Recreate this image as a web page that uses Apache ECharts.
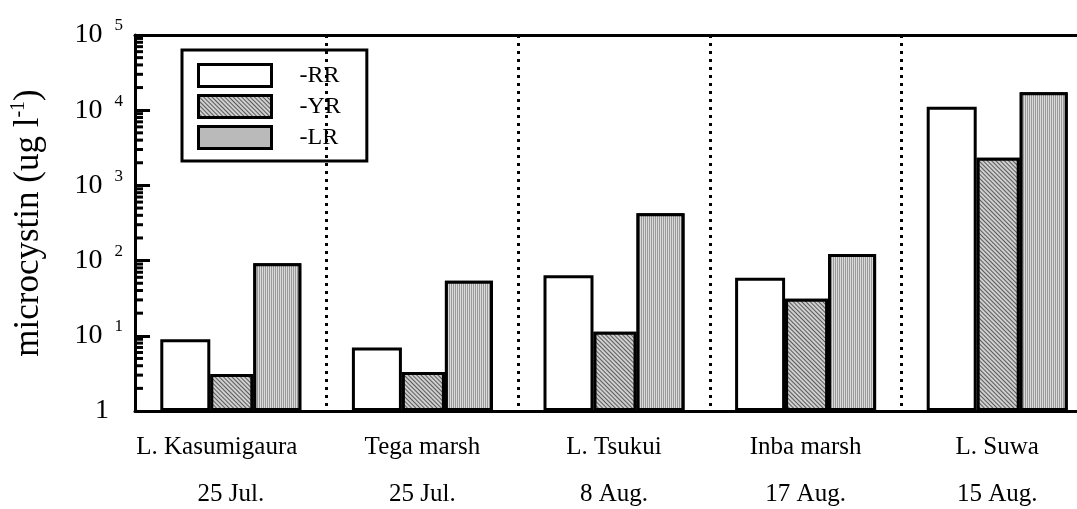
<!DOCTYPE html>
<html>
<head>
<meta charset="utf-8">
<script src="https://cdn.jsdelivr.net/npm/echarts@6/dist/echarts.min.js"></script>
<style>
    html, body { margin: 0; padding: 0; background: #fff; }
    #chart { width: 1077px; height: 509px; }
</style>
</head>
<body>
<div id="chart"></div>
<script>
// 采样点
const categories = ['L. Kasumigaura', 'Tega marsh', 'L. Tsukui', 'Inba marsh', 'L. Suwa'];
const dates = ['25 Jul.', '25 Jul.', '8 Aug.', '17 Aug.', '15 Aug.'];
// microcystin (ug/l), log scale
const rrData = [9, 7, 64, 59, 11100];
const yrData = [3.1, 3.3, 11.3, 31, 2330];
const lrData = [92, 54, 425, 122, 17300];
const yTicks = [1, 10, 100, 1000, 10000, 100000];

// minor ticks 2..9 in every decade
const minorTicks = [];
yTicks.slice(0, -1).forEach(d => {
    for (let k = 2; k <= 9; k++) minorTicks.push(d * k);
});

const font = 'Liberation Serif';
const myChart = echarts.init(document.getElementById('chart'));

const option = {
    backgroundColor: '#fff',
    animation: false,
    textStyle: { fontFamily: font, color: '#000' },
    grid: {
        left: 135,
        width: 958,
        top: 35,
        bottom: 98,
        outerBoundsMode: 'none'
    },
    legend: {
        orient: 'vertical',
        left: 182,
        top: 50,
        padding: [13, 26, 11, 15],
        itemWidth: 73,
        itemHeight: 22,
        itemGap: 6,
        icon: 'rect',
        borderColor: '#000',
        borderWidth: 3,
        data: ['RR', 'YR', 'LR'],
        formatter: '-{name}',
        itemStyle: { borderColor: '#000', borderWidth: 3 },
        textStyle: { fontFamily: font, fontSize: 24, color: '#000', padding: [0, 0, 0, 23] }
    },
    xAxis: [{
        type: 'category',
        data: categories,
        axisLine: { lineStyle: { color: '#000', width: 3 } },
        axisTick: { show: false },
        splitLine: {
            show: true,
            interval: (i) => i > 0,
            lineStyle: { color: '#000', width: 3, type: [3, 5] }
        },
        axisLabel: {
            margin: 12.5,
            interval: 0,
            formatter: (v, i) => (i === 0 ? '{n0|' : '{n|') + v + '}\n{d|' + dates[i] + '}',
            rich: {
                n: { fontFamily: font, fontSize: 25, lineHeight: 47, color: '#000' },
                n0: { fontFamily: font, fontSize: 25, lineHeight: 47, color: '#000', padding: [0, 28, 0, 0] },
                d: { fontFamily: font, fontSize: 25, lineHeight: 47, color: '#000' }
            }
        }
    }, {
        type: 'category',
        position: 'top',
        data: categories,
        axisLine: { show: true, lineStyle: { color: '#000', width: 3 } },
        axisTick: { show: false },
        axisLabel: { show: false }
    }],
    yAxis: {
        type: 'log',
        logBase: 10,
        min: 1,
        max: 100000,
        name: '{n|microcystin (ug l}{s|-1}{n|)}',
        nameLocation: 'middle',
        nameRotate: 90,
        nameGap: 87,
        nameTextStyle: {
            rich: {
                n: { fontFamily: font, fontSize: 35, color: '#000' },
                s: { fontFamily: font, fontSize: 20, color: '#000', padding: [0, 0, 19, 0] }
            }
        },
        axisLine: { show: true, lineStyle: { color: '#000', width: 3 } },
        axisTick: { show: true, inside: true, length: 15, lineStyle: { color: '#000', width: 3 } },
        splitLine: { show: false },
        axisLabel: {
            margin: 12,
            formatter: (v) => {
                const e = Math.round(Math.log10(v));
                return e === 0 ? '{b|1}{p|}' : '{b|10}{e|' + e + '}';
            },
            rich: {
                b: { fontFamily: font, fontSize: 28, color: '#000' },
                e: { fontFamily: font, fontSize: 17, color: '#000', padding: [0, 0, 18, 12] },
                p: { width: 14 }
            }
        }
    },
    series: [{
        name: 'RR',
        type: 'bar',
        barWidth: 50,
        barGap: '0%',
        itemStyle: { color: '#fff', borderColor: '#000', borderWidth: 3 },
        data: rrData
    }, {
        name: 'YR',
        type: 'bar',
        barWidth: 43,
        barGap: '0%',
        itemStyle: {
            color: '#b8b8b8',
            borderColor: '#000',
            borderWidth: 3,
            decal: {
                symbol: 'rect',
                symbolSize: 1,
                color: '#5a5a5a',
                backgroundColor: '#cfcfcf',
                dashArrayX: [1, 0],
                dashArrayY: [1, 2],
                rotation: Math.PI / 4
            }
        },
        data: yrData
    }, {
        name: 'LR',
        type: 'bar',
        barWidth: 48,
        barGap: '0%',
        itemStyle: {
            color: '#cfcfcf',
            borderColor: '#000',
            borderWidth: 3,
            decal: {
                symbol: 'rect',
                symbolSize: 1,
                color: '#9a9a9a',
                backgroundColor: '#dadada',
                dashArrayX: [1, 0],
                dashArrayY: [1, 1],
                rotation: Math.PI / 2
            }
        },
        data: lrData
    }, {
        // minor log ticks along the y axis
        name: 'minor',
        type: 'custom',
        silent: true,
        clip: false,
        z: 5,
        encode: { y: 0 },
        data: minorTicks.map(v => [v]),
        renderItem: (params, api) => {
            const x = params.coordSys.x;
            const y = api.coord([0, api.value(0)])[1];
            return {
                type: 'line',
                shape: { x1: x, y1: y, x2: x + 8, y2: y },
                style: { stroke: '#000', lineWidth: 3 }
            };
        }
    }]
};

myChart.setOption(option);
window.addEventListener('resize', () => myChart.resize());
</script>
</body>
</html>
